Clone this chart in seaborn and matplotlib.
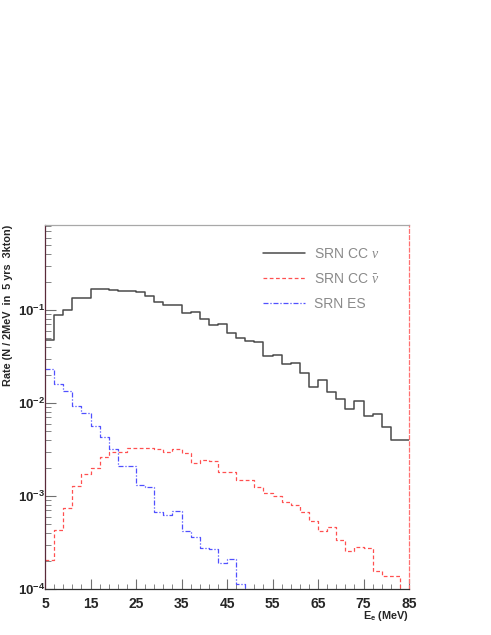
import numpy as np
import pandas as pd
import matplotlib
matplotlib.use('Agg')
import matplotlib.pyplot as plt
import matplotlib.ticker as mticker
import seaborn as sns

# 1. histogram data, 2 MeV bins from 5 to 85 MeV
bin_edges = np.arange(5, 86, 2)

cc_nu = [0.0472, 0.0877, 0.0993, 0.1355, 0.1355, 0.167, 0.167, 0.163, 0.160, 0.161,
         0.155, 0.140, 0.122, 0.1125, 0.1125, 0.0922, 0.096, 0.0806, 0.0684, 0.0712,
         0.0566, 0.0504, 0.0464, 0.0456, 0.032, 0.033, 0.0262, 0.0267, 0.0212, 0.01496,
         0.01767, 0.01303, 0.01096, 0.0086, 0.0104, 0.0072, 0.00767, 0.00548, 0.0040, 0.0040]

cc_nubar = [2.04e-4, 4.34e-4, 7.49e-4, 1.27e-3, 1.71e-3, 1.99e-3, 2.65e-3, 2.99e-3, 2.95e-3, 3.31e-3,
            3.26e-3, 3.28e-3, 3.20e-3, 2.97e-3, 3.18e-3, 2.88e-3, 2.28e-3, 2.46e-3, 2.38e-3, 1.83e-3,
            1.80e-3, 1.47e-3, 1.47e-3, 1.24e-3, 1.07e-3, 1.00e-3, 8.68e-4, 7.94e-4, 6.78e-4, 5.39e-4,
            4.20e-4, 4.61e-4, 3.39e-4, 2.56e-4, 2.81e-4, 2.74e-4, 1.56e-4, 1.37e-4, 1.37e-4, 0.0]

es = [2.30e-2, 1.60e-2, 1.34e-2, 9.35e-3, 7.74e-3, 5.70e-3, 4.28e-3, 3.20e-3, 2.10e-3, 2.10e-3,
      1.30e-3, 1.24e-3, 6.68e-4, 6.20e-4, 6.95e-4, 4.20e-4, 3.60e-4, 2.76e-4, 2.67e-4, 1.92e-4,
      2.09e-4, 1.12e-4, 0.0, 0.0, 0.0, 0.0, 0.0, 0.0, 0.0, 0.0,
      0.0, 0.0, 0.0, 0.0, 0.0, 0.0, 0.0, 0.0, 0.0, 0.0]

labels = [r'SRN CC $\nu$', r'SRN CC $\bar{\nu}$', 'SRN ES']

# 2. style (ROOT-like)
sns.set_style('white')
plt.rcParams['font.family'] = ['Liberation Sans', 'DejaVu Sans']
plt.rcParams['mathtext.fontset'] = 'custom'
plt.rcParams['mathtext.rm'] = 'Liberation Sans'
plt.rcParams['mathtext.it'] = 'Liberation Serif:italic'
plt.rcParams['mathtext.bf'] = 'Liberation Sans:bold'

fig = plt.figure(figsize=(4.91, 6.35), dpi=100)
ax = fig.add_axes([0.0917, 0.0724, 0.7413, 0.5732])


def steps(vals):
    return pd.DataFrame({'E': bin_edges, 'rate': np.append(vals, vals[-1])})


sns.lineplot(data=steps(cc_nu), x='E', y='rate', drawstyle='steps-post', estimator=None,
             sort=False, color='#4a4a4a', lw=1.1, label=labels[0], ax=ax)
sns.lineplot(data=steps(cc_nubar), x='E', y='rate', drawstyle='steps-post', estimator=None,
             sort=False, color='#ff5050', lw=0.9, label=labels[1], ax=ax)
sns.lineplot(data=steps(es), x='E', y='rate', drawstyle='steps-post', estimator=None,
             sort=False, color='#5050ff', lw=0.9, label=labels[2], ax=ax)
ax.lines[1].set_dashes([3, 2])
ax.lines[2].set_dashes([4, 1.5, 1, 1.5])

ax.set_yscale('log')
ax.set_xlim(5, 85)
ax.set_ylim(1e-4, 10 ** -0.086)

# 3. ticks
ax.xaxis.set_major_locator(mticker.FixedLocator(np.arange(5, 86, 10)))
ax.xaxis.set_minor_locator(mticker.FixedLocator(np.arange(5, 86, 2)))
ax.yaxis.set_major_locator(mticker.LogLocator(base=10, numticks=10))
ax.yaxis.set_minor_locator(mticker.LogLocator(base=10, subs=np.arange(2, 10), numticks=20))
ax.yaxis.set_minor_formatter(mticker.NullFormatter())
ax.yaxis.set_major_formatter(mticker.FuncFormatter(
    lambda v, p: r'$\mathbf{10^{%d}}$' % round(np.log10(v))))
ax.xaxis.set_major_formatter(mticker.FuncFormatter(lambda v, p: '%d' % v))

ax.tick_params(which='both', direction='in', color='#707070', top=False, right=False,
               bottom=True, left=True)
ax.tick_params(axis='x', which='major', length=7, pad=6, labelsize=10)
ax.tick_params(axis='x', which='minor', length=3.5)
ax.tick_params(axis='y', which='major', length=8, pad=0, labelsize=9.5)
ax.tick_params(axis='y', which='minor', length=4)
for t in ax.get_xticklabels():
    t.set_fontweight('bold')

for side in ['top', 'right', 'left', 'bottom']:
    ax.spines[side].set_visible(True)
    ax.spines[side].set_linewidth(0.9)
ax.spines['top'].set_color('#a8a8a8')
ax.spines['bottom'].set_color('#303030')
ax.spines['left'].set_color('#5a2a3a')
ax.spines['right'].set_color('#ff7070')
ax.spines['right'].set_linestyle((0, (3, 2)))

# 4. labels
ax.set_ylabel('Rate (N / 2MeV  in  5 yrs  3kton)', fontsize=7.8, fontweight='bold', loc='top')
ax.yaxis.set_label_coords(-0.088, 1.0)
ax.set_xlabel(r'$\mathbf{E_e}$ (MeV)', fontsize=7.8, fontweight='bold', loc='right')
ax.xaxis.set_label_coords(1.0, -0.055)
ax.xaxis.label.set_va('top')

leg = ax.legend(loc='upper left', bbox_to_anchor=(0.599, 0.94), frameon=False,
                borderaxespad=0, borderpad=0, handlelength=3.0, handletextpad=0.65,
                labelspacing=0.8, fontsize=10, labelcolor='#8a8a8a')

fig.savefig('out.png', dpi=100)
